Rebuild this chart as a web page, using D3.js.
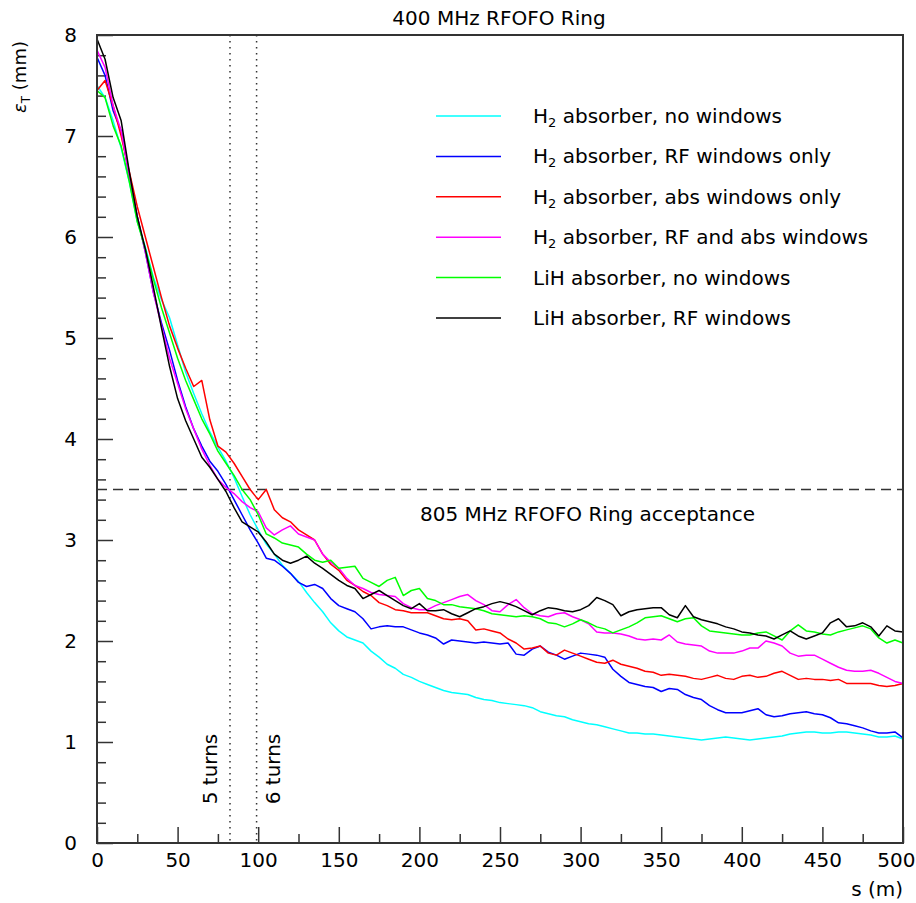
<!DOCTYPE html>
<html>
<head>
<meta charset="utf-8">
<script src="https://cdn.jsdelivr.net/npm/d3@7"></script>
<style>
  body { margin: 0; background: #fff; }
  text { font-family: "DejaVu Sans", sans-serif; fill: #000; }
</style>
</head>
<body>
<script>
// path length s (m), one sample every 5 m
var sValues = d3.range(0, 505, 5);

// emittance (mm), one value per sValues entry
var h2NoWindows = [
  7.50, 7.38, 7.15, 6.88, 6.55, 6.15, 5.90, 5.60, 5.38, 5.20,
  4.93, 4.66, 4.45, 4.25, 4.07, 3.92, 3.78, 3.62, 3.43, 3.25,
  3.10, 2.96, 2.86, 2.75, 2.67, 2.59, 2.48, 2.38, 2.29, 2.18,
  2.10, 2.04, 2.01, 1.98, 1.90, 1.84, 1.77, 1.73, 1.67, 1.64,
  1.60, 1.57, 1.54, 1.51, 1.49, 1.48, 1.47, 1.44, 1.42, 1.41,
  1.39, 1.38, 1.37, 1.36, 1.34, 1.30, 1.28, 1.26, 1.25, 1.22,
  1.20, 1.18, 1.17, 1.15, 1.13, 1.11, 1.09, 1.09, 1.08, 1.08,
  1.07, 1.06, 1.05, 1.04, 1.03, 1.02, 1.03, 1.04, 1.05, 1.04,
  1.03, 1.02, 1.03, 1.04, 1.05, 1.06, 1.08, 1.09, 1.10, 1.10,
  1.09, 1.09, 1.10, 1.10, 1.09, 1.08, 1.07, 1.05, 1.05, 1.06,
  1.03
];
var h2RfWindows = [
  7.78, 7.60, 7.25, 7.05, 6.60, 6.20, 5.85, 5.45, 5.15, 4.88,
  4.58, 4.32, 4.10, 3.93, 3.78, 3.68, 3.55, 3.40, 3.25, 3.10,
  2.97, 2.82, 2.80, 2.74, 2.67, 2.58, 2.54, 2.56, 2.52, 2.42,
  2.35, 2.32, 2.29, 2.22, 2.12, 2.14, 2.15, 2.14, 2.14, 2.11,
  2.08, 2.06, 2.03, 1.97, 2.01, 2.00, 1.99, 1.98, 1.99, 1.98,
  1.97, 1.98, 1.87, 1.86, 1.92, 1.95, 1.89, 1.86, 1.82, 1.85,
  1.88, 1.87, 1.86, 1.84, 1.72, 1.65, 1.59, 1.57, 1.55, 1.54,
  1.50, 1.53, 1.52, 1.47, 1.44, 1.42, 1.36, 1.32, 1.29, 1.29,
  1.29, 1.31, 1.33, 1.27, 1.25, 1.26, 1.28, 1.29, 1.30, 1.28,
  1.27, 1.24, 1.19, 1.18, 1.16, 1.14, 1.11, 1.09, 1.09, 1.10,
  1.04
];
var h2AbsWindows = [
  7.45, 7.55, 7.30, 7.00, 6.65, 6.30, 6.00, 5.70, 5.40, 5.12,
  4.90, 4.70, 4.52, 4.58, 4.19, 3.93, 3.87, 3.76, 3.63, 3.50,
  3.40, 3.50, 3.30, 3.22, 3.18, 3.10, 3.05, 3.00, 2.86, 2.76,
  2.70, 2.60, 2.55, 2.49, 2.45, 2.38, 2.35, 2.31, 2.30, 2.28,
  2.28, 2.28, 2.25, 2.22, 2.21, 2.22, 2.20, 2.11, 2.12, 2.10,
  2.08, 2.02, 1.98, 1.92, 1.93, 1.95, 1.88, 1.86, 1.91, 1.88,
  1.85, 1.82, 1.79, 1.78, 1.81, 1.77, 1.75, 1.73, 1.70, 1.69,
  1.66, 1.67, 1.66, 1.65, 1.63, 1.62, 1.64, 1.66, 1.63, 1.62,
  1.65, 1.66, 1.64, 1.65, 1.68, 1.70, 1.66, 1.62, 1.63, 1.62,
  1.62, 1.61, 1.62, 1.58, 1.58, 1.58, 1.58, 1.56, 1.55, 1.56,
  1.58
];
var h2RfAbsWindows = [
  7.85, 7.68, 7.30, 7.05, 6.60, 6.20, 5.85, 5.45, 5.12, 4.80,
  4.55, 4.30, 4.10, 3.90, 3.74, 3.60, 3.52, 3.46, 3.38, 3.32,
  3.28, 3.12, 3.05, 3.10, 3.14, 3.06, 3.03, 3.00, 2.86, 2.78,
  2.72, 2.62, 2.55, 2.52, 2.48, 2.46, 2.45, 2.44, 2.37, 2.33,
  2.31, 2.31, 2.35, 2.38, 2.41, 2.44, 2.46, 2.40, 2.36, 2.30,
  2.29, 2.36, 2.41, 2.33, 2.27, 2.25, 2.24, 2.27, 2.28, 2.24,
  2.21, 2.17, 2.09, 2.08, 2.08, 2.07, 2.05, 2.02, 2.01, 2.02,
  2.01, 2.06, 1.99, 1.97, 1.96, 1.95, 1.90, 1.88, 1.88, 1.88,
  1.90, 1.93, 1.93, 2.00, 1.98, 1.95, 1.88, 1.85, 1.86, 1.86,
  1.82, 1.78, 1.74, 1.71, 1.70, 1.70, 1.71, 1.68, 1.64, 1.60,
  1.58
];
var lihNoWindows = [
  7.45, 7.38, 7.10, 6.90, 6.55, 6.15, 5.88, 5.58, 5.30, 5.05,
  4.80, 4.58, 4.39, 4.20, 4.05, 3.88, 3.76, 3.64, 3.50, 3.40,
  3.25, 3.06, 3.02, 2.97, 2.95, 2.93, 2.86, 2.80, 2.78, 2.80,
  2.72, 2.73, 2.74, 2.62, 2.58, 2.54, 2.60, 2.63, 2.45, 2.50,
  2.52, 2.42, 2.40, 2.36, 2.36, 2.34, 2.33, 2.32, 2.30, 2.27,
  2.26, 2.25, 2.24, 2.25, 2.24, 2.22, 2.18, 2.17, 2.14, 2.17,
  2.21, 2.18, 2.14, 2.12, 2.08, 2.11, 2.14, 2.18, 2.23, 2.24,
  2.25, 2.22, 2.19, 2.22, 2.23, 2.15, 2.10, 2.09, 2.08, 2.07,
  2.06, 2.06, 2.08, 2.09, 2.05, 2.01, 2.10, 2.16, 2.10, 2.09,
  2.07, 2.06, 2.09, 2.11, 2.13, 2.15, 2.12, 2.03, 1.98, 2.01,
  1.98
];
var lihRfWindows = [
  7.96, 7.76, 7.38, 7.15, 6.65, 6.20, 5.88, 5.50, 5.10, 4.72,
  4.40, 4.18, 4.00, 3.82, 3.72, 3.60, 3.48, 3.32, 3.18, 3.13,
  3.08, 2.98, 2.86, 2.80, 2.77, 2.80, 2.84, 2.77, 2.72, 2.66,
  2.60, 2.55, 2.52, 2.42, 2.46, 2.50, 2.45, 2.40, 2.35, 2.32,
  2.37, 2.30, 2.30, 2.31, 2.27, 2.24, 2.28, 2.32, 2.34, 2.37,
  2.39, 2.37, 2.34, 2.30, 2.26, 2.30, 2.33, 2.32, 2.30, 2.29,
  2.31, 2.35, 2.43, 2.40, 2.36, 2.25, 2.29, 2.31, 2.32, 2.33,
  2.33, 2.26, 2.23, 2.35, 2.24, 2.21, 2.19, 2.17, 2.14, 2.12,
  2.09, 2.08, 2.06, 2.05, 2.02, 2.06, 2.10, 2.05, 2.02, 2.05,
  2.08, 2.18, 2.22, 2.14, 2.15, 2.18, 2.14, 2.05, 2.15, 2.10,
  2.09
];

var seriesNames = [
  "H2 absorber, no windows",
  "H2 absorber, RF windows only",
  "H2 absorber, abs windows only",
  "H2 absorber, RF and abs windows",
  "LiH absorber, no windows",
  "LiH absorber, RF windows"
];
var seriesValues = [h2NoWindows, h2RfWindows, h2AbsWindows, h2RfAbsWindows, lihNoWindows, lihRfWindows];
var seriesColors = ["#00ffff", "#0000ff", "#ff0000", "#ff00ff", "#00ff00", "#000000"];

var xMajorTicks = [0, 50, 100, 150, 200, 250, 300, 350, 400, 450, 500];
var xMinorTicks = [25, 75, 125, 175, 225, 275, 325, 375, 425, 475];
var yMajorTicks = [0, 1, 2, 3, 4, 5, 6, 7, 8];
var yMinorTicks = [];
for (var k = 0; k < 40; k++) { if (k % 5 != 0) yMinorTicks.push(k / 5); }

var acceptance = 3.5;      // 805 MHz ring acceptance (mm)
var turnMarks = [82.5, 99]; // 5 and 6 turns (m)
var turnLabels = ["5 turns", "6 turns"];

var fontSize = 20;

// SVG area
var svgWidth = 916;
var svgHeight = 903;
var chartMargin = { top: 35, right: 13, bottom: 60, left: 97 };
var chartWidth = svgWidth - chartMargin.left - chartMargin.right;
var chartHeight = svgHeight - chartMargin.top - chartMargin.bottom;

var svg = d3.select("body")
  .append("svg")
  .attr("width", svgWidth)
  .attr("height", svgHeight);

var chartGroup = svg.append("g")
  .attr("transform", `translate(${chartMargin.left}, ${chartMargin.top})`);

var xScale = d3.scaleLinear().domain([0, 500]).range([0, chartWidth]);
var yScale = d3.scaleLinear().domain([0, 8]).range([chartHeight, 0]);

function styleAxis(g) {
  g.select(".domain").remove();
  g.selectAll(".tick line").attr("stroke", "#333").attr("stroke-width", 1.5);
  g.selectAll("text").attr("font-family", "DejaVu Sans, sans-serif").attr("font-size", fontSize).attr("fill", "#000");
}

// ticks point inward
var xAxisGroup = chartGroup.append("g")
  .attr("transform", `translate(0, ${chartHeight})`)
  .call(d3.axisBottom(xScale).tickValues(xMajorTicks).tickSize(-16).tickPadding(10))
  .call(styleAxis);
// the last label would run off the page edge; pull it in
xAxisGroup.selectAll(".tick text")
  .filter(d => d == 500)
  .attr("text-anchor", "end")
  .attr("x", 12);

chartGroup.append("g")
  .attr("transform", `translate(0, ${chartHeight})`)
  .call(d3.axisBottom(xScale).tickValues(xMinorTicks).tickSize(-9).tickFormat(""))
  .call(styleAxis);
chartGroup.append("g")
  .call(d3.axisLeft(yScale).tickValues(yMajorTicks).tickSize(-16).tickPadding(20).tickFormat(d3.format("d")))
  .call(styleAxis);
chartGroup.append("g")
  .call(d3.axisLeft(yScale).tickValues(yMinorTicks).tickSize(-9).tickFormat(""))
  .call(styleAxis);

// reference lines
chartGroup.append("line")
  .attr("x1", 0).attr("x2", chartWidth)
  .attr("y1", yScale(acceptance)).attr("y2", yScale(acceptance))
  .attr("stroke", "#333").attr("stroke-width", 1.5)
  .attr("stroke-dasharray", "10,6");

chartGroup.selectAll(".turn-line")
  .data(turnMarks)
  .enter()
  .append("line")
  .attr("class", "turn-line")
  .attr("x1", d => xScale(d)).attr("x2", d => xScale(d))
  .attr("y1", 0).attr("y2", chartHeight)
  .attr("stroke", "#333").attr("stroke-width", 1.5)
  .attr("stroke-dasharray", "1.5,4.5");

chartGroup.selectAll(".turn-label")
  .data(turnMarks)
  .enter()
  .append("text")
  .attr("class", "turn-label")
  .attr("transform", (d, i) => `translate(${xScale(d) + (i == 0 ? -20 : 16)}, ${chartHeight - 74}) rotate(-90)`)
  .attr("text-anchor", "middle")
  .attr("dy", "0.35em")
  .attr("font-size", fontSize)
  .text((d, i) => turnLabels[i]);

chartGroup.append("text")
  .attr("x", 323)
  .attr("y", yScale(acceptance) + 31)
  .attr("font-size", fontSize)
  .text("805 MHz RFOFO Ring acceptance");

// the six curves
var line = d3.line()
  .x((d, i) => xScale(sValues[i]))
  .y(d => yScale(d));

chartGroup.selectAll(".series")
  .data(seriesValues)
  .enter()
  .append("path")
  .attr("class", "series")
  .attr("fill", "none")
  .attr("stroke", (d, i) => seriesColors[i])
  .attr("stroke-width", 1.5)
  .attr("stroke-linejoin", "round")
  .attr("d", line);

// frame
chartGroup.append("rect")
  .attr("width", chartWidth)
  .attr("height", chartHeight)
  .attr("fill", "none")
  .attr("stroke", "#333")
  .attr("stroke-width", 2);

// legend
var legend = chartGroup.selectAll(".legend")
  .data(seriesNames)
  .enter()
  .append("g")
  .attr("class", "legend")
  .attr("transform", (d, i) => `translate(339, ${81 + i * 40.4})`);

legend.append("line")
  .attr("x1", 0).attr("x2", 65)
  .attr("stroke", (d, i) => seriesColors[i])
  .attr("stroke-width", 1.5);

legend.each(function(d) {
  var t = d3.select(this).append("text")
    .attr("x", 97)
    .attr("dy", "0.35em")
    .attr("font-size", fontSize);
  if (d.startsWith("H2")) {
    t.append("tspan").text("H");
    t.append("tspan").attr("font-size", 13).attr("dy", 4).text("2");
    t.append("tspan").attr("dy", -4).text(d.slice(2));
  } else {
    t.text(d);
  }
});

// titles
svg.append("text")
  .attr("x", 499)
  .attr("y", 25)
  .attr("text-anchor", "middle")
  .attr("font-size", fontSize)
  .text("400 MHz RFOFO Ring");

svg.append("text")
  .attr("x", chartMargin.left + chartWidth)
  .attr("y", 896)
  .attr("text-anchor", "end")
  .attr("font-size", fontSize)
  .text("s (m)");

var yLabel = svg.append("text")
  .attr("transform", "translate(26, 77) rotate(-90)")
  .attr("text-anchor", "middle")
  .attr("font-size", 18);
yLabel.append("tspan").attr("font-style", "italic").text("ε");
yLabel.append("tspan").attr("font-size", 12).attr("dy", 4).text("T");
yLabel.append("tspan").attr("dy", -4).text(" (mm)");
</script>
</body>
</html>
